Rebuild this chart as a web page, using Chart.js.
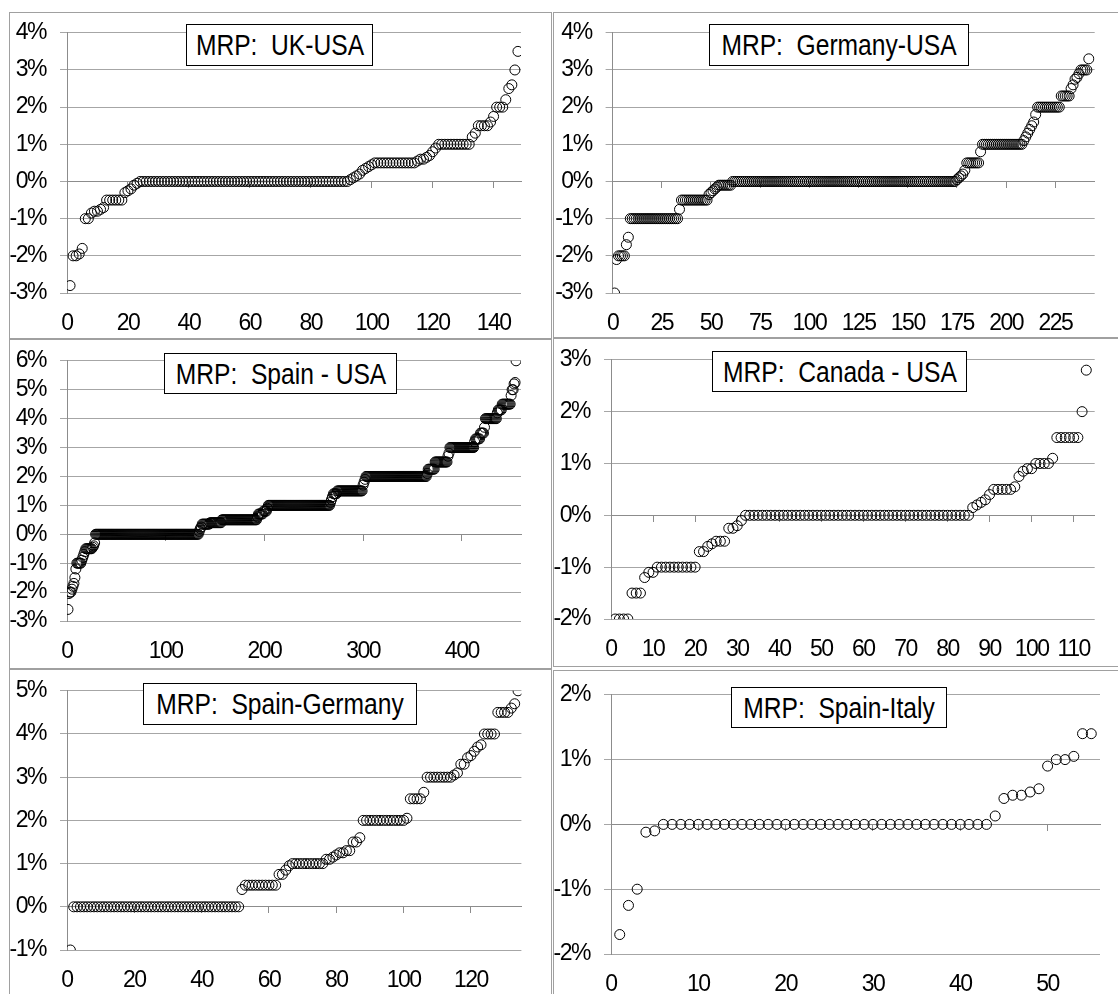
<!DOCTYPE html>
<html>
<head>
<meta charset="utf-8">
<script src="https://cdn.jsdelivr.net/npm/chart.js@4.4.0/dist/chart.umd.min.js"></script>
<style>
  body { margin: 0; width: 1118px; height: 994px; overflow: hidden; position: relative; background: #fff; }
  .panel { position: absolute; border: 1px solid #a0a0a0; box-sizing: border-box; background: #fff; }
  canvas { position: absolute; }
  .title {
    position: absolute; box-sizing: border-box; border: 1px solid #000; background: #fff;
    font-family: 'Liberation Sans', Arial, sans-serif;
    font-size: 30px; white-space: pre; color: #000;
  }
  .title span {
    position: absolute; left: 50%; top: 0;
    transform: translateX(-50%) scaleX(0.82); transform-origin: 50% 50%;
  }
</style>
</head>
<body>
<script>
const ukUsa = [
  -2.8, -2, -2, -1.95, -1.8, -1, -1, -0.85, -0.8, -0.8, -0.75, -0.7,
  -0.5, -0.5, -0.5, -0.5, -0.5, -0.5,
  -0.3, -0.25, -0.2, -0.1, -0.05,
  0, 0, 0, 0, 0, 0, 0, 0, 0, 0,
  0, 0, 0, 0, 0, 0, 0, 0, 0, 0,
  0, 0, 0, 0, 0, 0, 0, 0, 0, 0,
  0, 0, 0, 0, 0, 0, 0, 0, 0, 0,
  0, 0, 0, 0, 0, 0, 0, 0, 0, 0,
  0, 0, 0, 0, 0, 0, 0, 0, 0, 0,
  0, 0, 0, 0, 0, 0, 0, 0, 0,
  0.05, 0.1, 0.15, 0.2, 0.3, 0.35, 0.4, 0.45,
  0.5, 0.5, 0.5, 0.5, 0.5, 0.5, 0.5, 0.5, 0.5, 0.5, 0.5, 0.5, 0.5, 0.5,
  0.55, 0.6, 0.6, 0.65, 0.7, 0.8, 0.9,
  1, 1, 1, 1, 1, 1, 1, 1, 1, 1, 1,
  1.2, 1.3, 1.5, 1.5, 1.5, 1.5, 1.6, 1.75, 2, 2, 2, 2.2, 2.5, 2.6, 3, 3.5
];

const germanyUsa = [
  -3, -2.1, -2, -2, -2, -2, -1.7, -1.5,
  -1, -1, -1, -1, -1, -1, -1, -1, -1, -1,
  -1, -1, -1, -1, -1, -1, -1, -1, -1, -1,
  -1, -1, -1, -1, -1,
  -0.75,
  -0.5, -0.5, -0.5, -0.5, -0.5, -0.5, -0.5, -0.5, -0.5, -0.5, -0.5, -0.5, -0.5, -0.5,
  -0.35, -0.3, -0.25, -0.2, -0.15,
  -0.1, -0.1, -0.1, -0.1, -0.1, -0.1, -0.1,
  0, 0, 0, 0, 0, 0, 0, 0, 0, 0,
  0, 0, 0, 0, 0, 0, 0, 0, 0, 0,
  0, 0, 0, 0, 0, 0, 0, 0, 0, 0,
  0, 0, 0, 0, 0, 0, 0, 0, 0, 0,
  0, 0, 0, 0, 0, 0, 0, 0, 0, 0,
  0, 0, 0, 0, 0, 0, 0, 0, 0, 0,
  0, 0, 0, 0, 0, 0, 0, 0, 0, 0,
  0, 0, 0, 0, 0, 0, 0, 0, 0, 0,
  0, 0, 0, 0, 0, 0, 0, 0, 0, 0,
  0, 0, 0, 0, 0, 0, 0, 0, 0, 0,
  0, 0, 0, 0, 0, 0, 0, 0, 0, 0,
  0, 0, 0, 0,
  0.05, 0.1, 0.15, 0.2, 0.3,
  0.5, 0.5, 0.5, 0.5, 0.5, 0.5, 0.5,
  0.8,
  1, 1, 1, 1, 1, 1, 1, 1, 1, 1,
  1, 1, 1, 1, 1, 1, 1, 1, 1, 1, 1,
  1.1, 1.2, 1.3, 1.4, 1.5, 1.6, 1.8,
  2, 2, 2, 2, 2, 2, 2, 2, 2, 2, 2, 2,
  2.3, 2.3, 2.3, 2.3, 2.3,
  2.5, 2.6, 2.75, 2.8, 2.9,
  3, 3, 3, 3,
  3.3
];

const spainUsa = [
  -2.6, -2.05, -2, -2, -1.9, -1.8, -1.7, -1.5, -1.2,
  -1, -1, -1, -1, -1,
  -0.9, -0.8, -0.7, -0.6,
  -0.5, -0.5, -0.5, -0.5, -0.5, -0.5, -0.5,
  -0.45, -0.4, -0.3,
  0, 0, 0, 0, 0, 0, 0, 0, 0, 0,
  0, 0, 0, 0, 0, 0, 0, 0, 0, 0,
  0, 0, 0, 0, 0, 0, 0, 0, 0, 0,
  0, 0, 0, 0, 0, 0, 0, 0, 0, 0,
  0, 0, 0, 0, 0, 0, 0, 0, 0, 0,
  0, 0, 0, 0, 0, 0, 0, 0, 0, 0,
  0, 0, 0, 0, 0, 0, 0, 0, 0, 0,
  0, 0, 0, 0, 0, 0, 0, 0, 0, 0,
  0, 0, 0, 0, 0, 0, 0, 0, 0, 0,
  0, 0, 0, 0, 0, 0, 0, 0, 0, 0,
  0, 0, 0, 0, 0,
  0.1, 0.2, 0.25,
  0.35, 0.35, 0.35, 0.35, 0.35, 0.35, 0.35, 0.35,
  0.4, 0.4, 0.4, 0.4, 0.4, 0.4, 0.4, 0.4, 0.4, 0.4, 0.4, 0.4,
  0.5, 0.5, 0.5, 0.5, 0.5, 0.5, 0.5, 0.5, 0.5, 0.5,
  0.5, 0.5, 0.5, 0.5, 0.5, 0.5, 0.5, 0.5, 0.5, 0.5,
  0.5, 0.5, 0.5, 0.5, 0.5, 0.5, 0.5, 0.5, 0.5, 0.5,
  0.5, 0.5, 0.5, 0.5, 0.5, 0.5,
  0.6, 0.7, 0.7, 0.7, 0.7, 0.7, 0.8, 0.8, 0.8, 0.8, 0.9,
  1, 1, 1, 1, 1, 1, 1, 1, 1, 1,
  1, 1, 1, 1, 1, 1, 1, 1, 1, 1,
  1, 1, 1, 1, 1, 1, 1, 1, 1, 1,
  1, 1, 1, 1, 1, 1, 1, 1, 1, 1,
  1, 1, 1, 1, 1, 1, 1, 1, 1, 1,
  1, 1, 1, 1, 1, 1, 1, 1, 1, 1,
  1, 1, 1,
  1.1, 1.2, 1.3, 1.4, 1.4, 1.4, 1.4,
  1.5, 1.5, 1.5, 1.5, 1.5, 1.5, 1.5, 1.5, 1.5, 1.5,
  1.5, 1.5, 1.5, 1.5, 1.5, 1.5, 1.5, 1.5, 1.5, 1.5,
  1.5, 1.5, 1.5, 1.5, 1.5, 1.5,
  1.7, 1.8, 1.9,
  2, 2, 2, 2, 2, 2, 2, 2, 2, 2,
  2, 2, 2, 2, 2, 2, 2, 2, 2, 2,
  2, 2, 2, 2, 2, 2, 2, 2, 2, 2,
  2, 2, 2, 2, 2, 2, 2, 2, 2, 2,
  2, 2, 2, 2, 2, 2, 2, 2, 2, 2,
  2, 2, 2, 2, 2, 2, 2, 2, 2, 2,
  2, 2,
  2.1, 2.25, 2.25, 2.25, 2.25, 2.25, 2.25, 2.25,
  2.5, 2.5, 2.5, 2.5, 2.5, 2.5, 2.5, 2.5, 2.5, 2.5, 2.5, 2.5, 2.5,
  2.7, 2.8,
  3, 3, 3, 3, 3, 3, 3, 3, 3, 3,
  3, 3, 3, 3, 3, 3, 3, 3, 3, 3,
  3, 3, 3, 3, 3,
  3.2, 3.3, 3.3, 3.3, 3.3, 3.3, 3.5, 3.5, 3.5, 3.5, 3.7,
  4, 4, 4, 4, 4, 4, 4, 4, 4, 4, 4, 4,
  4.2, 4.3, 4.3, 4.3, 4.3,
  4.5, 4.5, 4.5, 4.5, 4.5, 4.5, 4.5, 4.5, 4.5,
  4.8, 5, 5, 5.2, 5.25, 6
];

const canadaUsa = [
  -2, -2, -2, -2, -1.5, -1.5, -1.5, -1.2, -1.1, -1.1,
  -1, -1, -1, -1, -1, -1, -1, -1, -1, -1,
  -0.7, -0.7, -0.6, -0.55, -0.5, -0.5, -0.5,
  -0.25, -0.25, -0.2, -0.1,
  0, 0, 0, 0, 0, 0, 0, 0, 0, 0,
  0, 0, 0, 0, 0, 0, 0, 0, 0, 0,
  0, 0, 0, 0, 0, 0, 0, 0, 0, 0,
  0, 0, 0, 0, 0, 0, 0, 0, 0, 0,
  0, 0, 0, 0, 0, 0, 0, 0, 0, 0,
  0, 0, 0, 0,
  0.15, 0.2, 0.25, 0.3, 0.4,
  0.5, 0.5, 0.5, 0.5, 0.5, 0.55,
  0.75, 0.85, 0.9, 0.9,
  1, 1, 1, 1, 1.1,
  1.5, 1.5, 1.5, 1.5, 1.5, 1.5,
  2, 2.8
];

const spainGermany = [
  -1,
  0, 0, 0, 0, 0, 0, 0, 0, 0, 0,
  0, 0, 0, 0, 0, 0, 0, 0, 0, 0,
  0, 0, 0, 0, 0, 0, 0, 0, 0, 0,
  0, 0, 0, 0, 0, 0, 0, 0, 0, 0,
  0, 0, 0, 0, 0, 0, 0, 0, 0, 0,
  0.4,
  0.5, 0.5, 0.5, 0.5, 0.5, 0.5, 0.5, 0.5, 0.5, 0.5,
  0.75, 0.75, 0.85, 0.95,
  1, 1, 1, 1, 1, 1, 1, 1, 1, 1,
  1.1, 1.1, 1.15, 1.2, 1.25, 1.25, 1.3, 1.3,
  1.5, 1.5, 1.6,
  2, 2, 2, 2, 2, 2, 2, 2, 2, 2, 2, 2, 2,
  2.05,
  2.5, 2.5, 2.5, 2.5, 2.65,
  3, 3, 3, 3, 3, 3, 3, 3,
  3.05, 3.1, 3.3, 3.3, 3.45, 3.5, 3.6, 3.7, 3.75,
  4, 4, 4, 4,
  4.5, 4.5, 4.5, 4.5,
  4.6, 4.7, 5
];

const spainItaly = [
  -1.7, -1.25, -1, -0.12, -0.1,
  0, 0, 0, 0, 0, 0, 0, 0, 0, 0,
  0, 0, 0, 0, 0, 0, 0, 0, 0, 0,
  0, 0, 0, 0, 0, 0, 0, 0, 0, 0,
  0, 0, 0, 0, 0, 0, 0, 0,
  0.13, 0.4, 0.45, 0.45, 0.5, 0.55, 0.9, 1, 1, 1.05, 1.4, 1.4
];

const titles = ["MRP:  UK-USA", "MRP:  Germany-USA", "MRP:  Spain - USA",
                "MRP:  Canada - USA", "MRP:  Spain-Germany", "MRP:  Spain-Italy"];
const series = [ukUsa, germanyUsa, spainUsa, canadaUsa, spainGermany, spainItaly];
const xMax = [149, 245, 460, 115, 135, 56];
const xStep = [20, 25, 100, 10, 20, 10];
const yMin = [-3, -3, -3, -2, -1, -2];
const yMax = [4, 4, 6, 3, 5, 2];

// page layout: frame box, plot area [left, top, right, bottom], title box
const layout = [
  { frame: [9, 12, 543, 327],   area: [67, 25, 521, 293],        tbox: [186, 24, 187, 42] },
  { frame: [553, 12, 600, 326], area: [612.6, 25, 1094.7, 293],  tbox: [709, 24, 260, 42] },
  { frame: [9, 339, 543, 330],  area: [67, 352.7, 521, 620.7],   tbox: [164, 353, 233, 41] },
  { frame: [553, 338, 600, 329],area: [611, 351.7, 1094.7, 618.7], tbox: [712, 351, 255, 41] },
  { frame: [9, 669, 543, 400],  area: [67, 683.3, 521.4, 951],   tbox: [143, 683, 274, 42] },
  { frame: [553, 670, 600, 400],area: [611, 686.7, 1100, 953.7], tbox: [731, 687, 216, 41] }
];

const FONT = "'Liberation Sans', Arial, sans-serif";
const gridGray = '#a6a6a6';
const axisGray = '#8c8c8c';

// tighten tick text a little so it reads like the narrow face of the original
const narrowText = {
  id: 'narrowText',
  beforeDraw(chart) { chart.ctx.letterSpacing = '-1.5px'; }
};

function addDiv(cls, rect) {
  const d = document.createElement('div');
  d.className = cls;
  d.style.left = rect[0] + 'px';
  d.style.top = rect[1] + 'px';
  d.style.width = rect[2] + 'px';
  d.style.height = rect[3] + 'px';
  document.body.appendChild(d);
  return d;
}

layout.forEach((p, k) => {
  addDiv('panel', p.frame);

  const [al, at, ar, ab] = p.area;
  const cl = p.frame[0], ct = at - 20;
  const cw = Math.min(p.frame[0] + p.frame[2], 1118) - cl;
  const ch = ab + 50 - ct;

  const cv = document.createElement('canvas');
  cv.width = cw; cv.height = ch;
  cv.style.left = cl + 'px'; cv.style.top = ct + 'px';
  document.body.appendChild(cv);

  new Chart(cv, {
    type: 'scatter',
    plugins: [narrowText],
    data: {
      datasets: [{
        data: series[k].map((v, i) => ({ x: i + 1, y: v })),
        pointStyle: 'circle',
        pointRadius: 5,
        borderWidth: 1,
        borderColor: '#000',
        backgroundColor: 'rgba(0,0,0,0)'
      }]
    },
    options: {
      responsive: false,
      animation: false,
      events: [],
      layout: { padding: { left: 0, top: 20, right: cl + cw - ar, bottom: 0 } },
      plugins: { legend: { display: false }, tooltip: { enabled: false } },
      scales: {
        x: {
          type: 'linear', min: 0, max: xMax[k],
          border: { display: false },
          grid: { display: false, drawTicks: false },
          ticks: {
            stepSize: xStep[k], includeBounds: false, autoSkip: false, maxRotation: 0,
            padding: 17, color: '#000', font: { family: FONT, size: 23 }
          },
          afterFit: s => { s.height = 50; }
        },
        x2: {
          type: 'linear', axis: 'x', position: { y: 0 }, min: 0, max: xMax[k],
          border: { display: true, color: axisGray, width: 1 },
          grid: { drawOnChartArea: false, drawTicks: true, tickLength: 6, color: axisGray },
          ticks: { display: false, stepSize: xStep[k], includeBounds: false }
        },
        y: {
          min: yMin[k], max: yMax[k],
          border: { display: true, color: axisGray, width: 1 },
          grid: { color: gridGray, lineWidth: 1, tickLength: 7 },
          ticks: {
            stepSize: 1, padding: 14, color: '#000', autoSkip: false,
            font: { family: FONT, size: 23 },
            callback: v => v + '%'
          },
          afterFit: s => { s.width = al - cl; }
        }
      }
    }
  });

  const t = addDiv('title', p.tbox);
  const sp = document.createElement('span');
  sp.style.lineHeight = (p.tbox[3] - 2) + 'px';
  sp.textContent = titles[k];
  t.appendChild(sp);
});
</script>
</body>
</html>
